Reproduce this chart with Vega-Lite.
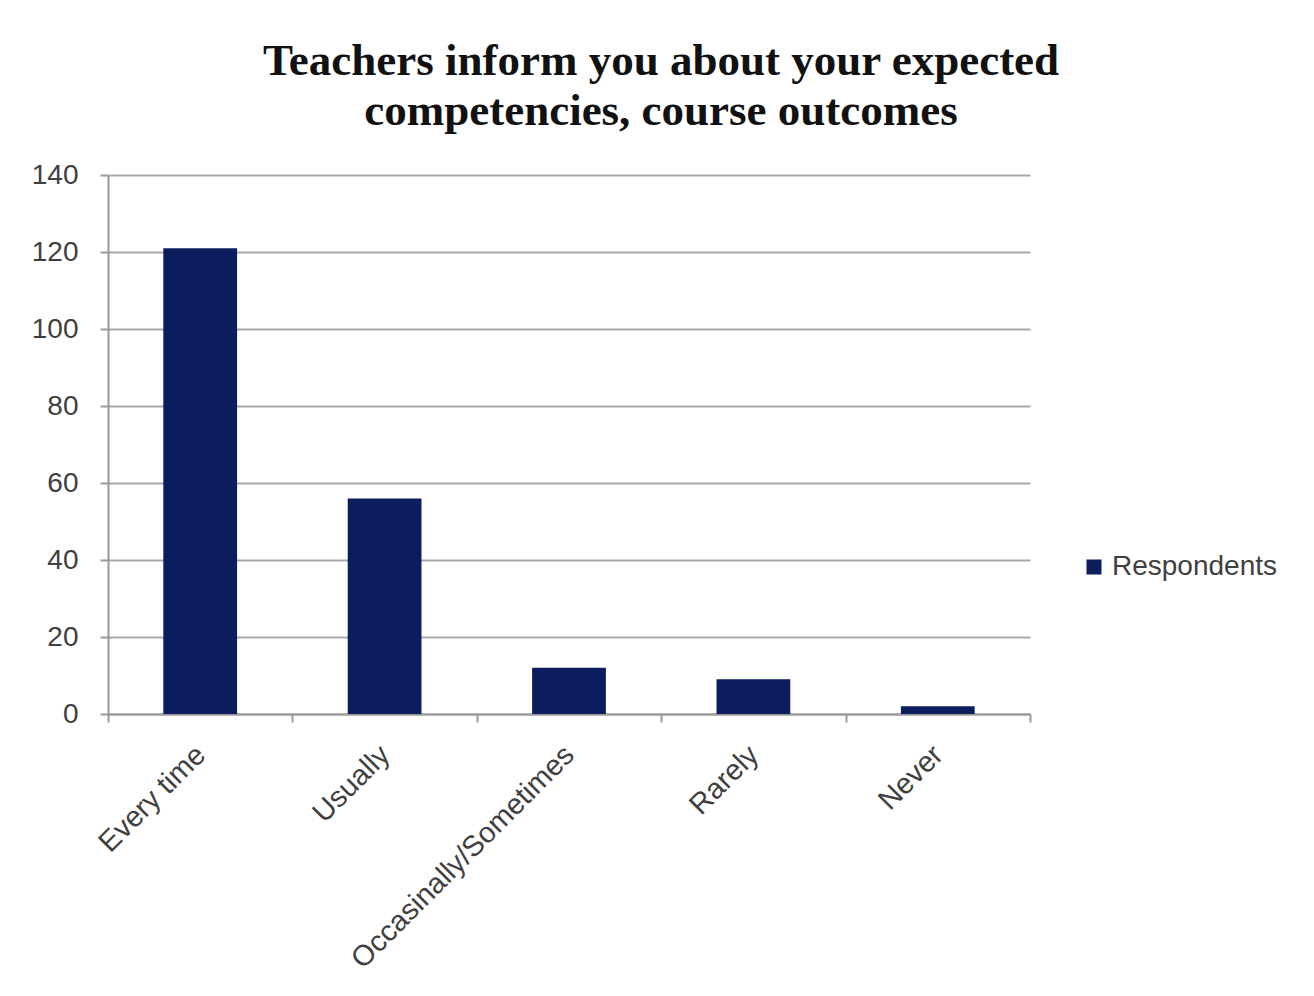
{
  "$schema": "https://vega.github.io/schema/vega-lite/v6.json",
  "autosize": {"type": "none"},
  "padding": {"left": 108, "top": 175, "right": 284, "bottom": 282},
  "width": 922,
  "height": 539,
  "background": "white",
  "title": {
    "text": ["Teachers inform you about your expected", "competencies, course outcomes"],
    "font": "Liberation Serif",
    "fontSize": 45,
    "fontWeight": "bold",
    "color": "#111111",
    "lineHeight": 50,
    "anchor": "middle",
    "frame": "group",
    "dx": 92,
    "offset": 27
  },
  "data": {
    "values": [
      {"category": "Every time", "value": 121, "series": "Respondents"},
      {"category": "Usually", "value": 56, "series": "Respondents"},
      {"category": "Occasinally/Sometimes", "value": 12, "series": "Respondents"},
      {"category": "Rarely", "value": 9, "series": "Respondents"},
      {"category": "Never", "value": 2, "series": "Respondents"}
    ]
  },
  "mark": {"type": "bar", "width": {"band": 0.4}},
  "encoding": {
    "x": {
      "field": "category",
      "type": "nominal",
      "sort": null,
      "scale": {"paddingInner": 0, "paddingOuter": 0},
      "axis": {
        "title": null,
        "labelAngle": -45,
        "labelAlign": "right",
        "labelBaseline": "middle",
        "labelFont": "Liberation Sans",
        "labelFontSize": 29,
        "labelColor": "#404040",
        "labelPadding": 28,
        "labelLimit": 0,
        "tickBand": "extent",
        "tickSize": 8,
        "tickColor": "#999999",
        "tickWidth": 2,
        "domainColor": "#999999",
        "domainWidth": 2,
        "grid": false
      }
    },
    "y": {
      "field": "value",
      "type": "quantitative",
      "scale": {"domain": [0, 140]},
      "axis": {
        "title": null,
        "values": [0, 20, 40, 60, 80, 100, 120, 140],
        "labelFont": "Liberation Sans",
        "labelFontSize": 28,
        "labelColor": "#404040",
        "labelPadding": 22,
        "tickSize": 8,
        "tickColor": "#999999",
        "tickWidth": 2,
        "domainColor": "#999999",
        "domainWidth": 2,
        "grid": true,
        "gridColor": "#a8a8a8",
        "gridWidth": 2
      }
    },
    "color": {
      "field": "series",
      "type": "nominal",
      "scale": {"range": ["#0b1d5c"]},
      "legend": {
        "title": null,
        "orient": "none",
        "legendX": 972,
        "legendY": 378,
        "symbolType": "square",
        "symbolSize": 225,
        "symbolStrokeWidth": 0,
        "labelFont": "Liberation Sans",
        "labelFontSize": 28,
        "labelColor": "#404040",
        "labelOffset": 4,
        "labelLimit": 0
      }
    }
  },
  "config": {
    "view": {"stroke": null}
  }
}
